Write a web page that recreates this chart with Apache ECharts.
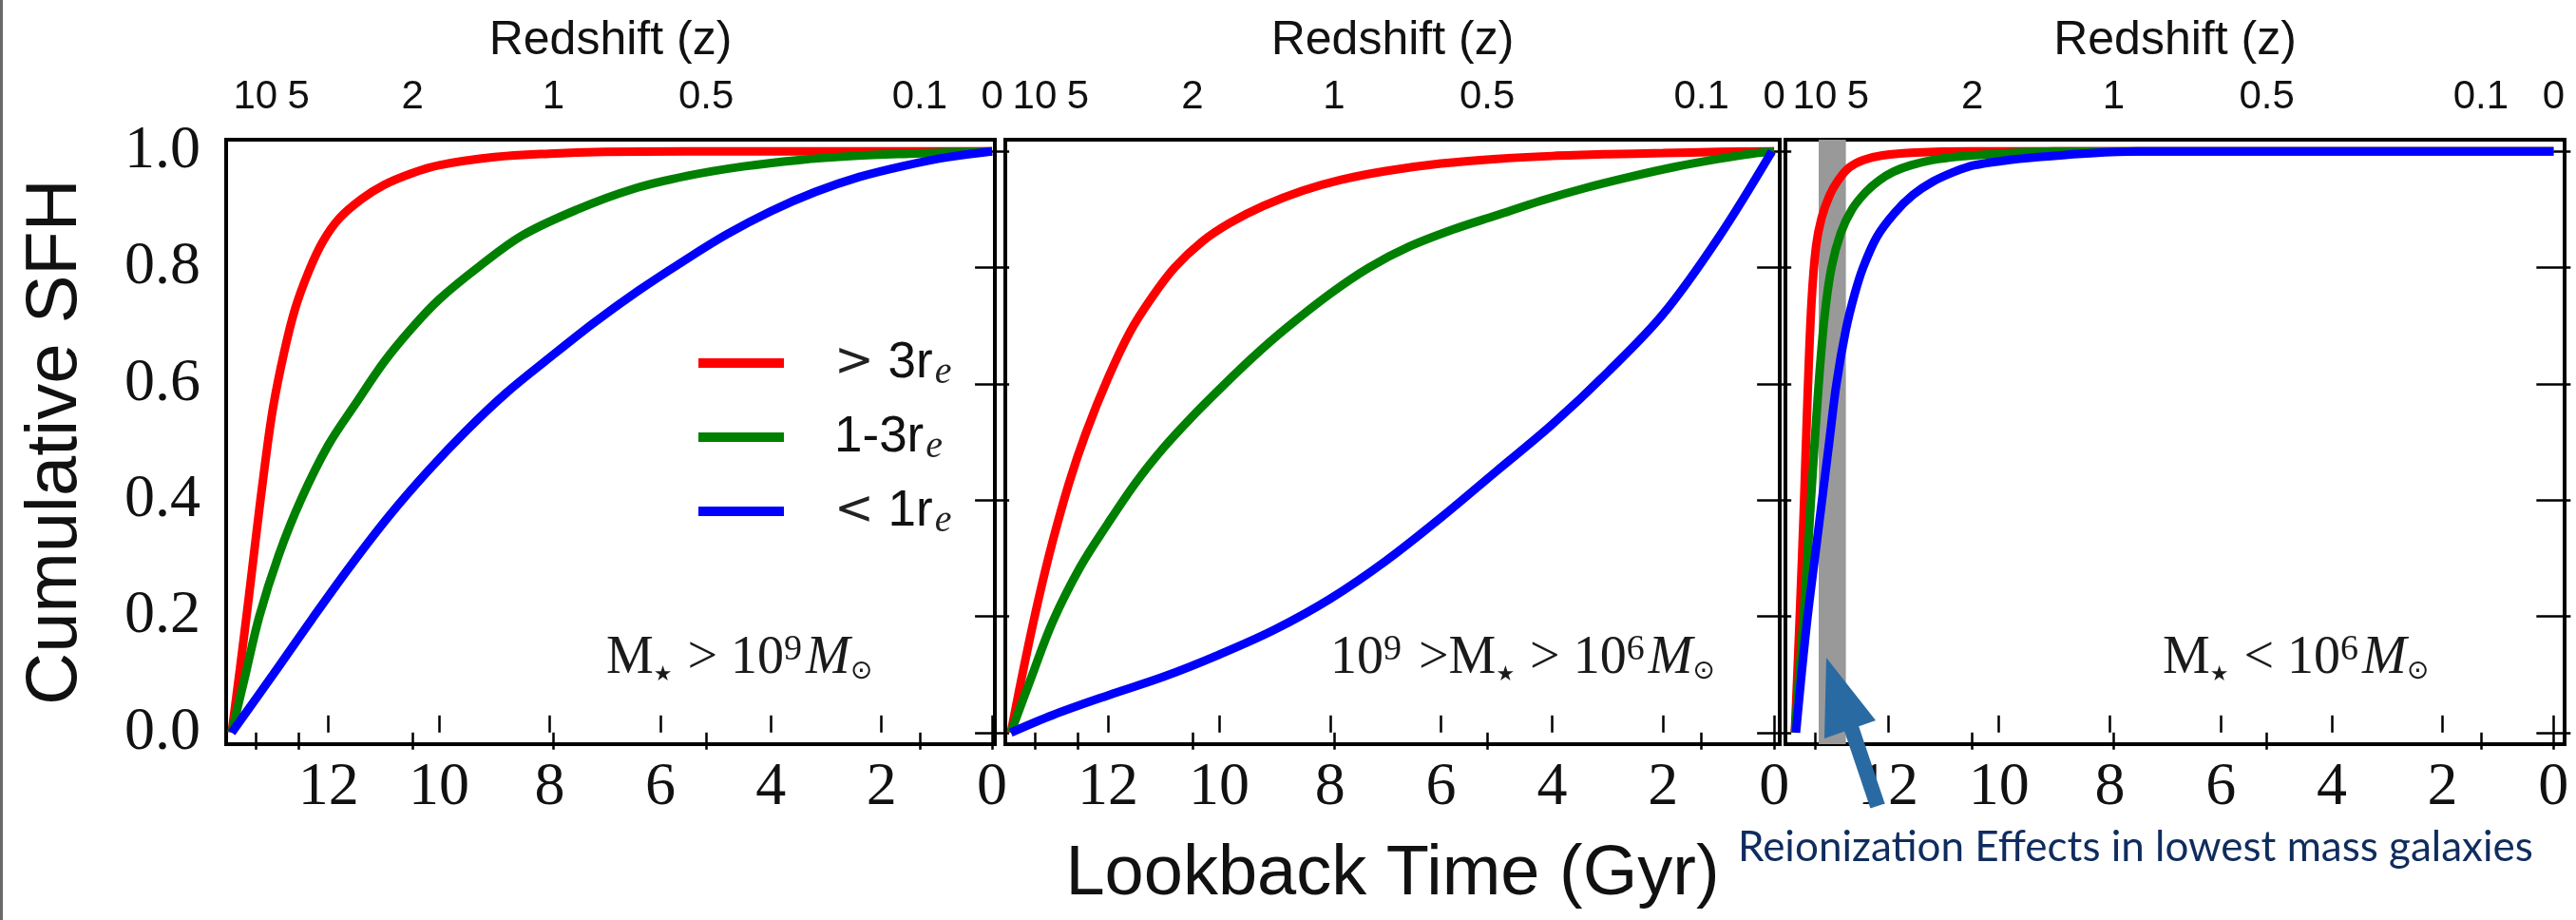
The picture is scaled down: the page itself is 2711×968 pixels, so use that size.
<!DOCTYPE html>
<html>
<head>
<meta charset="utf-8">
<title>Cumulative SFH</title>
<script src="https://cdn.jsdelivr.net/npm/echarts@6.0.0/dist/echarts.min.js"></script>
<style>
  html, body { margin: 0; padding: 0; background: #fff; }
  #chart { width: 2711px; height: 968px; }
</style>
</head>
<body>
<div id="chart"></div>
<script>
// [lookback time (Gyr), cumulative SFH]
// panel 1: M* > 1e9
const highOuter = [[13.75, 0], [13.6, 0.11], [13.45, 0.225], [13.3, 0.345], [13.15, 0.46], [13.0, 0.56], [12.8, 0.655], [12.6, 0.73], [12.35, 0.795], [12.1, 0.845], [11.8, 0.885], [11.4, 0.918], [11.0, 0.942], [10.5, 0.962], [10.0, 0.976], [9.0, 0.99], [8.0, 0.996], [7.0, 0.999], [5.5, 1.0], [0, 1.0]];
const highMiddle = [[13.75, 0], [13.5, 0.1], [13.25, 0.2], [12.9, 0.305], [12.5, 0.4], [12.0, 0.495], [11.5, 0.567], [11.0, 0.637], [10.5, 0.695], [10.0, 0.745], [9.3, 0.8], [8.5, 0.855], [7.5, 0.9], [6.5, 0.935], [5.5, 0.958], [4.5, 0.974], [3.5, 0.985], [2.5, 0.992], [1.5, 0.996], [0.5, 0.999], [0, 1.0]];
const highInner = [[13.75, 0], [13.0, 0.1], [12.3, 0.195], [11.6, 0.287], [10.9, 0.373], [10.2, 0.45], [9.5, 0.52], [8.8, 0.583], [8.0, 0.645], [7.2, 0.705], [6.4, 0.76], [5.6, 0.81], [4.8, 0.857], [4.0, 0.897], [3.2, 0.93], [2.4, 0.956], [1.6, 0.975], [0.8, 0.99], [0, 1.0]];
// panel 2: 1e9 > M* > 1e6
const midOuter = [[13.75, 0], [13.5, 0.12], [13.25, 0.23], [13.0, 0.328], [12.7, 0.43], [12.4, 0.515], [12.0, 0.61], [11.6, 0.69], [11.2, 0.75], [10.8, 0.8], [10.3, 0.845], [9.8, 0.877], [9.2, 0.906], [8.5, 0.932], [7.8, 0.951], [7.0, 0.966], [6.0, 0.979], [5.0, 0.987], [4.0, 0.992], [3.0, 0.995], [2.0, 0.997], [1.0, 0.999], [0, 1.0]];
const midMiddle = [[13.75, 0], [13.4, 0.09], [13.0, 0.19], [12.5, 0.285], [12.0, 0.36], [11.5, 0.43], [11.0, 0.49], [10.5, 0.542], [10.0, 0.59], [9.4, 0.645], [8.8, 0.695], [8.0, 0.755], [7.3, 0.8], [6.6, 0.835], [5.8, 0.865], [5.0, 0.89], [4.2, 0.915], [3.4, 0.937], [2.6, 0.956], [1.8, 0.973], [1.0, 0.987], [0.4, 0.996], [0, 1.0]];
const midInner = [[13.75, 0], [13.0, 0.03], [12.0, 0.064], [11.0, 0.096], [10.0, 0.134], [9.0, 0.177], [8.0, 0.23], [7.0, 0.295], [6.0, 0.37], [5.0, 0.45], [4.0, 0.53], [3.0, 0.62], [2.0, 0.72], [1.0, 0.852], [0.04, 1.0]];
// panel 3: M* < 1e6
const lowOuter = [[13.68, 0], [13.6, 0.18], [13.52, 0.38], [13.45, 0.58], [13.38, 0.74], [13.3, 0.835], [13.2, 0.885], [13.05, 0.925], [12.9, 0.95], [12.7, 0.972], [12.45, 0.985], [12.1, 0.993], [11.5, 0.998], [10.5, 1.0], [0, 1.0]];
const lowMiddle = [[13.68, 0], [13.6, 0.1], [13.52, 0.2], [13.39, 0.4], [13.25, 0.6], [13.14, 0.72], [13.02, 0.8], [12.85, 0.86], [12.65, 0.9], [12.4, 0.93], [12.16, 0.95], [11.9, 0.965], [11.59, 0.976], [11.2, 0.985], [10.73, 0.991], [10.0, 0.996], [9.0, 1.0], [0, 1.0]];
const lowInner = [[13.66, 0], [13.56, 0.1], [13.45, 0.2], [13.32, 0.3], [13.19, 0.4], [13.06, 0.5], [12.93, 0.6], [12.76, 0.693], [12.6, 0.755], [12.45, 0.8], [12.2, 0.853], [11.88, 0.894], [11.55, 0.925], [11.19, 0.948], [10.8, 0.965], [10.45, 0.976], [9.9, 0.984], [9.3, 0.99], [8.5, 0.996], [7.5, 1.0], [0, 1.0]];

const radiusNames = ['> 3re', '1-3re', '< 1re'];
const radiusColors = ['#ff0000', '#008000', '#0000ff'];
const timeTicks = [0, 2, 4, 6, 8, 10, 12];
const sfhTicks = [0, 0.2, 0.4, 0.6, 0.8, 1.0];
const zTickLabels = ['10', '5', '2', '1', '0.5', '0.1', '0'];
const zTickLookback = [13.32, 12.54, 10.48, 7.93, 5.17, 1.31, 0];
const reionBand = [12.76, 13.25];

const panels = [
  [highOuter, highMiddle, highInner],
  [midOuter, midMiddle, midInner],
  [lowOuter, lowMiddle, lowInner]
];
const timeMax = 13.85;
const timeMin = [-0.05, -0.1, -0.2];
const gridBoxes = [
  { left: 238, width: 809 },
  { left: 1058, width: 815 },
  { left: 1879, width: 820 }
];

const serif = 'Liberation Serif';
const sans = 'Liberation Sans';
const tickStyle = { show: true, inside: true, length: 18, lineStyle: { color: '#000', width: 2.5 } };

const grids = gridBoxes.map(b => ({
  left: b.left, width: b.width, top: 147, height: 636,
  show: true, borderColor: '#000', borderWidth: 4, backgroundColor: 'transparent',
  outerBoundsMode: 'none'
}));

const xAxes = [];
const yAxes = [];
for (let i = 0; i < 3; i++) {
  // lookback time along the bottom
  xAxes.push({
    type: 'value', gridIndex: i, position: 'bottom', inverse: true,
    min: timeMin[i], max: timeMax,
    axisLine: { show: false }, splitLine: { show: false },
    axisTick: Object.assign({ customValues: timeTicks }, tickStyle),
    axisLabel: { customValues: timeTicks, margin: 14, fontFamily: serif, fontSize: 64, color: '#111' },
    name: i === 1 ? 'Lookback Time (Gyr)' : '',
    nameLocation: 'middle', nameGap: 101,
    nameTextStyle: { fontFamily: sans, fontSize: 74, color: '#111' }
  });
  yAxes.push({
    type: 'value', gridIndex: i, position: 'left', min: -0.02, max: 1.02,
    axisLine: { show: false }, splitLine: { show: false },
    axisTick: Object.assign({ customValues: sfhTicks }, tickStyle),
    axisLabel: {
      show: i === 0, customValues: sfhTicks, margin: 27,
      fontFamily: serif, fontSize: 64, color: '#111',
      formatter: v => v.toFixed(1)
    },
    name: i === 0 ? 'Cumulative SFH' : '',
    nameLocation: 'middle', nameRotate: 90, nameGap: 141,
    nameTextStyle: { fontFamily: sans, fontSize: 76, color: '#111' }
  });
}
for (let i = 0; i < 3; i++) {
  // redshift along the top
  xAxes.push({
    type: 'value', gridIndex: i, position: 'top', inverse: true,
    min: timeMin[i], max: timeMax,
    axisLine: { show: false }, splitLine: { show: false },
    axisTick: Object.assign({ customValues: zTickLookback }, tickStyle),
    axisLabel: {
      customValues: zTickLookback, margin: 24, fontFamily: sans, fontSize: 42, color: '#111',
      formatter: v => zTickLabels[zTickLookback.indexOf(v)]
    },
    name: 'Redshift (z)', nameLocation: 'middle', nameGap: 79,
    nameTextStyle: { fontFamily: sans, fontSize: 50, color: '#111' }
  });
  yAxes.push({
    type: 'value', gridIndex: i, position: 'right', min: -0.02, max: 1.02,
    axisLine: { show: false }, splitLine: { show: false },
    axisTick: Object.assign({ customValues: sfhTicks }, tickStyle),
    axisLabel: { show: false }
  });
}

const series = [{
  name: 'reionization', type: 'line', xAxisIndex: 2, yAxisIndex: 2, data: [], z: 1,
  markArea: {
    silent: true,
    itemStyle: { color: '#999999' },
    data: [[{ xAxis: reionBand[1] }, { xAxis: reionBand[0] }]]
  }
}];
panels.forEach((curves, i) => {
  curves.forEach((pts, k) => {
    series.push({
      name: radiusNames[k], type: 'line', xAxisIndex: i, yAxisIndex: i,
      data: pts, smooth: 0.35, showSymbol: false, z: 3,
      lineStyle: { color: radiusColors[k], width: 9 },
      itemStyle: { color: radiusColors[k] }
    });
  });
});

const legendText = {
  '> 3re': '{g|>} 3r{e|e}',
  '1-3re': '1-3r{e|e}',
  '< 1re': '{g|<} 1r{e|e}'
};

const massRich = {
  r: { fontFamily: serif, fontSize: 56, fill: '#1a1a1a' },
  s: { fontFamily: 'DejaVu Sans', fontSize: 22, fill: '#1a1a1a', verticalAlign: 'bottom', padding: [18, 2, 0, 0] },
  u: { fontFamily: serif, fontSize: 38, fill: '#1a1a1a', verticalAlign: 'top', padding: [0, 4, 16, 0] },
  i: { fontFamily: serif, fontSize: 56, fontStyle: 'italic', fill: '#1a1a1a' },
  o: { fontFamily: 'DejaVu Sans', fontSize: 28, fill: '#1a1a1a', verticalAlign: 'bottom', padding: [16, 0, 0, 0] }
};
function massLabel(x, text) {
  return { type: 'text', x: x, y: 693, silent: true, z: 100,
    style: { text: text, rich: massRich, verticalAlign: 'middle', fill: '#1a1a1a' } };
}

const chart = echarts.init(document.getElementById('chart'), null, { renderer: 'canvas' });
chart.setOption({
  animation: false,
  backgroundColor: '#fff',
  grid: grids,
  xAxis: xAxes,
  yAxis: yAxes,
  legend: {
    data: radiusNames, left: 735, top: 352, orient: 'vertical', padding: 0,
    icon: 'rect', itemWidth: 90, itemHeight: 10, itemGap: 18, selectedMode: false,
    formatter: n => legendText[n],
    textStyle: {
      fontFamily: sans, fontSize: 53, color: '#111', lineHeight: 60, padding: [0, 0, 0, 48],
      rich: {
        g: { fontFamily: 'DejaVu Sans', fontSize: 50, color: '#222' },
        e: { fontFamily: serif, fontStyle: 'italic', fontSize: 40, color: '#222', verticalAlign: 'bottom', padding: [14, 0, 0, 2] }
      }
    }
  },
  graphic: [
    { type: 'rect', silent: true, shape: { x: 0, y: 0, width: 3, height: 968 }, style: { fill: '#6a6a6a' } },
    massLabel(638, '{r|M}{s|★}{r| > 10}{u|9}{i|M}{o|⊙}'),
    massLabel(1400, '{r|10}{u|9}{r| >M}{s|★}{r| > 10}{u|6}{i|M}{o|⊙}'),
    massLabel(2276, '{r|M}{s|★}{r| < 10}{u|6}{i|M}{o|⊙}'),
    { type: 'line', silent: true, z: 100, shape: { x1: 1976, y1: 848, x2: 1947, y2: 762 },
      style: { stroke: '#2a6aa3', lineWidth: 16 } },
    { type: 'polygon', silent: true, z: 100, shape: { points: [[1922, 692], [1974, 758], [1920, 777]] },
      style: { fill: '#2a6aa3' } },
    { type: 'text', x: 1829, y: 892, silent: true, z: 100,
      style: { text: 'Reionization Effects in lowest mass galaxies', fontFamily: 'Lato', fontSize: 44,
        fill: '#0f2c5e', verticalAlign: 'middle' } }
  ],
  series: series
});
</script>
</body>
</html>
